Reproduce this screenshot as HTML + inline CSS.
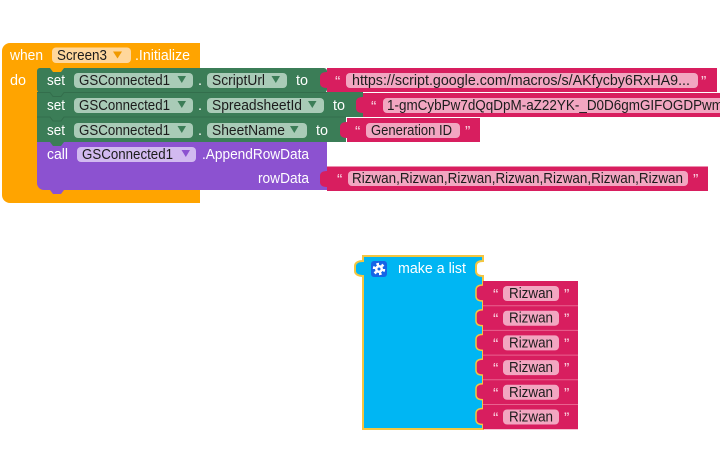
<!DOCTYPE html>
<html><head><meta charset="utf-8"><style>
html,body{margin:0;padding:0;background:#fff;}
svg{display:block;}
text{font-family:"Liberation Sans",sans-serif;}
.w{fill:#fff;font-size:14.5px;}
.d{fill:#1c1c1c;font-size:14.5px;}
.q{fill:#f9d3e0;font-size:16px;}
</style></head><body>
<svg width="720" height="461" viewBox="0 0 720 461" xmlns="http://www.w3.org/2000/svg">
<rect width="720" height="461" fill="#fff"/>

<path d="M2,51 a8,8 0 0 1 8,-8 H200 V203 H10 a8,8 0 0 1 -8,-8 Z" fill="#ffa400"/>

<rect x="37" y="68" width="290" height="24.5" rx="3" fill="#3b7d57"/>
<rect x="37" y="92" width="326" height="25" fill="#3b7d57"/>
<rect x="37" y="117" width="309" height="25" fill="#3b7d57"/>
<path d="M50,68 l3,4 h8 l3,-4 Z" fill="#ffa400"/>
<path d="M37,92.5 H50 l3,4 h8 l3,-4 H327" fill="none" stroke="#336e4c" stroke-width="1"/>
<path d="M37,117 H50 l3,4 h8 l3,-4 H346" fill="none" stroke="#336e4c" stroke-width="1"/>

<path d="M37,142 H327 V190 H44 a7,7 0 0 1 -7,-7 Z" fill="#8c52d0"/>
<path d="M50,142 l3,4 h8 l3,-4 Z" fill="#3b7d57"/>
<path d="M50,190 l3,4 h8 l3,-4 Z" fill="#8c52d0"/>

<text class="w" x="10" y="60" textLength="33" lengthAdjust="spacingAndGlyphs">when</text>
<rect x="52" y="47.5" width="79" height="15.5" rx="4" fill="#ffd79c"/>
<text class="d" x="57" y="60" textLength="50" lengthAdjust="spacingAndGlyphs">Screen3</text>
<polygon points="113,51.5 122,51.5 117.5,58.5" fill="#f09a00"/>
<text class="w" x="135" y="60" textLength="55" lengthAdjust="spacingAndGlyphs">.Initialize</text>
<text class="w" x="10" y="85" textLength="16" lengthAdjust="spacingAndGlyphs">do</text>

<text class="w" x="47" y="85" textLength="18" lengthAdjust="spacingAndGlyphs">set</text>
<rect x="74" y="73" width="119" height="15" rx="4" fill="#a9cbb7"/>
<text class="d" x="79" y="85" textLength="91" lengthAdjust="spacingAndGlyphs">GSConnected1</text>
<polygon points="177.5,76 186,76 181.8,83" fill="#3b7d57"/>
<text class="w" x="198" y="85">.</text>
<rect x="207" y="73" width="80" height="15" rx="4" fill="#a9cbb7"/>
<text class="d" x="212" y="85" textLength="53" lengthAdjust="spacingAndGlyphs">ScriptUrl</text>
<polygon points="271.5,76 280,76 275.8,83" fill="#3b7d57"/>
<text class="w" x="296" y="85" textLength="12" lengthAdjust="spacingAndGlyphs">to</text>

<text class="w" x="47" y="110" textLength="18" lengthAdjust="spacingAndGlyphs">set</text>
<rect x="74" y="98" width="119" height="15" rx="4" fill="#a9cbb7"/>
<text class="d" x="79" y="110" textLength="91" lengthAdjust="spacingAndGlyphs">GSConnected1</text>
<polygon points="177.5,101 186,101 181.8,108" fill="#3b7d57"/>
<text class="w" x="198" y="110">.</text>
<rect x="207" y="98" width="117" height="15" rx="4" fill="#a9cbb7"/>
<text class="d" x="212" y="110" textLength="90" lengthAdjust="spacingAndGlyphs">SpreadsheetId</text>
<polygon points="308,101 316.5,101 312.3,108" fill="#3b7d57"/>
<text class="w" x="333" y="110" textLength="12" lengthAdjust="spacingAndGlyphs">to</text>

<text class="w" x="47" y="135" textLength="18" lengthAdjust="spacingAndGlyphs">set</text>
<rect x="74" y="123" width="119" height="15" rx="4" fill="#a9cbb7"/>
<text class="d" x="79" y="135" textLength="91" lengthAdjust="spacingAndGlyphs">GSConnected1</text>
<polygon points="177.5,126 186,126 181.8,133" fill="#3b7d57"/>
<text class="w" x="198" y="135">.</text>
<rect x="207" y="123" width="100" height="15" rx="4" fill="#a9cbb7"/>
<text class="d" x="212" y="135" textLength="73" lengthAdjust="spacingAndGlyphs">SheetName</text>
<polygon points="290,126 298.5,126 294.3,133" fill="#3b7d57"/>
<text class="w" x="316" y="135" textLength="12" lengthAdjust="spacingAndGlyphs">to</text>

<text class="w" x="47" y="159" textLength="21" lengthAdjust="spacingAndGlyphs">call</text>
<rect x="77" y="147" width="119" height="15" rx="4" fill="#d2baf0"/>
<text class="d" x="82" y="159" textLength="91" lengthAdjust="spacingAndGlyphs">GSConnected1</text>
<polygon points="181.5,150 190,150 185.8,157" fill="#8c52d0"/>
<text class="w" x="202" y="159" textLength="107" lengthAdjust="spacingAndGlyphs">.AppendRowData</text>
<text class="w" x="258" y="183" textLength="51" lengthAdjust="spacingAndGlyphs">rowData</text>

<g fill="#d81e5f">
  <path d="M327,68 H717 V92 H327 V88 C322,88 320,86 320,83 V77 C320,74 322,72 327,72 Z"/>
  <path d="M363,93 H720 V117 H363 V113 C358,113 356,111 356,108 V102 C356,99 358,97 363,97 Z"/>
  <path d="M347,118 H480 V142 H347 V138 C342,138 340,136 340,133 V127 C340,124 342,122 347,122 Z"/>
  <path d="M327,166.5 H708 V191 H327 V187 C322,187 320,185 320,182 V176 C320,173 322,171 327,171 Z"/>
</g>
<text class="q" x="335" y="87">“</text>
<rect x="346" y="73" width="352" height="15" rx="4" fill="#f2a6c1"/>
<text class="d" x="352" y="85" textLength="338" lengthAdjust="spacingAndGlyphs">https://script.google.com/macros/s/AKfycby6RxHA9...</text>
<text class="q" x="701" y="87">”</text>

<text class="q" x="371" y="112">“</text>
<rect x="383" y="98" width="345" height="15" rx="4" fill="#f2a6c1"/>
<text class="d" x="387" y="110" textLength="336" lengthAdjust="spacingAndGlyphs">1-gmCybPw7dQqDpM-aZ22YK-_D0D6gmGIFOGDPwm</text>

<text class="q" x="355" y="137">“</text>
<rect x="366" y="123" width="94" height="15" rx="4" fill="#f2a6c1"/>
<text class="d" x="371" y="135" textLength="81" lengthAdjust="spacingAndGlyphs">Generation ID</text>
<text class="q" x="465" y="137">”</text>

<text class="q" x="337" y="185">“</text>
<rect x="348" y="171" width="340" height="15" rx="4" fill="#f2a6c1"/>
<text class="d" x="352" y="183" textLength="331" lengthAdjust="spacingAndGlyphs">Rizwan,Rizwan,Rizwan,Rizwan,Rizwan,Rizwan,Rizwan</text>
<text class="q" x="693" y="185">”</text>

<path d="M363,256 H483 V261 C478,261 476,263 476,266 V271 C476,274 478,276 483,276 V429 H363 V276 C358,276 355,274 355,271 V266 C355,263 358,261 363,261 Z" fill="#00b6f3" stroke="#f4c640" stroke-width="2"/>
<rect x="371" y="261" width="16" height="16" rx="3" fill="#1664e6"/>
<circle cx="379" cy="269" r="5" fill="none" stroke="#fff" stroke-width="2.4" stroke-dasharray="2.6 2.6"/>
<circle cx="379" cy="269" r="4" fill="#fff"/>
<circle cx="379" cy="269" r="1.5" fill="#1664e6"/>
<text class="w" x="398" y="273" textLength="68" lengthAdjust="spacingAndGlyphs">make a list</text>

<g fill="#d81e5f">
  <path d="M483,281 H578 V305.7 H483 V301 C478,301 476,299 476,296 V290 C476,287 478,285 483,285 Z"/>
  <path d="M483,305.7 H578 V330.4 H483 V325.7 C478,325.7 476,323.7 476,320.7 V314.7 C476,311.7 478,309.7 483,309.7 Z"/>
  <path d="M483,330.4 H578 V355.1 H483 V350.4 C478,350.4 476,348.4 476,345.4 V339.4 C476,336.4 478,334.4 483,334.4 Z"/>
  <path d="M483,355.1 H578 V379.8 H483 V375.1 C478,375.1 476,373.1 476,370.1 V364.1 C476,361.1 478,359.1 483,359.1 Z"/>
  <path d="M483,379.8 H578 V404.5 H483 V399.8 C478,399.8 476,397.8 476,394.8 V388.8 C476,385.8 478,383.8 483,383.8 Z"/>
  <path d="M483,404.5 H578 V429.2 H483 V424.5 C478,424.5 476,422.5 476,419.5 V413.5 C476,410.5 478,408.5 483,408.5 Z"/>
</g>
<g fill="none" stroke="#f4c640" stroke-width="1.5">
  <path d="M483,285 C478,285 476,287 476,290 V296 C476,299 478,301 483,301"/>
  <path d="M483,309.7 C478,309.7 476,311.7 476,314.7 V320.7 C476,323.7 478,325.7 483,325.7"/>
  <path d="M483,334.4 C478,334.4 476,336.4 476,339.4 V345.4 C476,348.4 478,350.4 483,350.4"/>
  <path d="M483,359.1 C478,359.1 476,361.1 476,364.1 V370.1 C476,373.1 478,375.1 483,375.1"/>
  <path d="M483,383.8 C478,383.8 476,385.8 476,388.8 V394.8 C476,397.8 478,399.8 483,399.8"/>
  <path d="M483,408.5 C478,408.5 476,410.5 476,413.5 V419.5 C476,422.5 478,424.5 483,424.5"/>
</g>
<g stroke="#e9628f" stroke-width="1">
  <line x1="483" y1="305.7" x2="578" y2="305.7"/>
  <line x1="483" y1="330.4" x2="578" y2="330.4"/>
  <line x1="483" y1="355.1" x2="578" y2="355.1"/>
  <line x1="483" y1="379.8" x2="578" y2="379.8"/>
  <line x1="483" y1="404.5" x2="578" y2="404.5"/>
</g>

<g>
  <text class="q" x="493" y="300">“</text><rect x="503" y="286" width="56" height="15" rx="4" fill="#f2a6c1"/><text class="d" x="509" y="298" textLength="44" lengthAdjust="spacingAndGlyphs">Rizwan</text><text class="q" x="564" y="300">”</text>
  <text class="q" x="493" y="324.7">“</text><rect x="503" y="310.7" width="56" height="15" rx="4" fill="#f2a6c1"/><text class="d" x="509" y="322.7" textLength="44" lengthAdjust="spacingAndGlyphs">Rizwan</text><text class="q" x="564" y="324.7">”</text>
  <text class="q" x="493" y="349.4">“</text><rect x="503" y="335.4" width="56" height="15" rx="4" fill="#f2a6c1"/><text class="d" x="509" y="347.4" textLength="44" lengthAdjust="spacingAndGlyphs">Rizwan</text><text class="q" x="564" y="349.4">”</text>
  <text class="q" x="493" y="374.1">“</text><rect x="503" y="360.1" width="56" height="15" rx="4" fill="#f2a6c1"/><text class="d" x="509" y="372.1" textLength="44" lengthAdjust="spacingAndGlyphs">Rizwan</text><text class="q" x="564" y="374.1">”</text>
  <text class="q" x="493" y="398.8">“</text><rect x="503" y="384.8" width="56" height="15" rx="4" fill="#f2a6c1"/><text class="d" x="509" y="396.8" textLength="44" lengthAdjust="spacingAndGlyphs">Rizwan</text><text class="q" x="564" y="398.8">”</text>
  <text class="q" x="493" y="423.5">“</text><rect x="503" y="409.5" width="56" height="15" rx="4" fill="#f2a6c1"/><text class="d" x="509" y="421.5" textLength="44" lengthAdjust="spacingAndGlyphs">Rizwan</text><text class="q" x="564" y="423.5">”</text>
</g>
</svg>
</body></html>
